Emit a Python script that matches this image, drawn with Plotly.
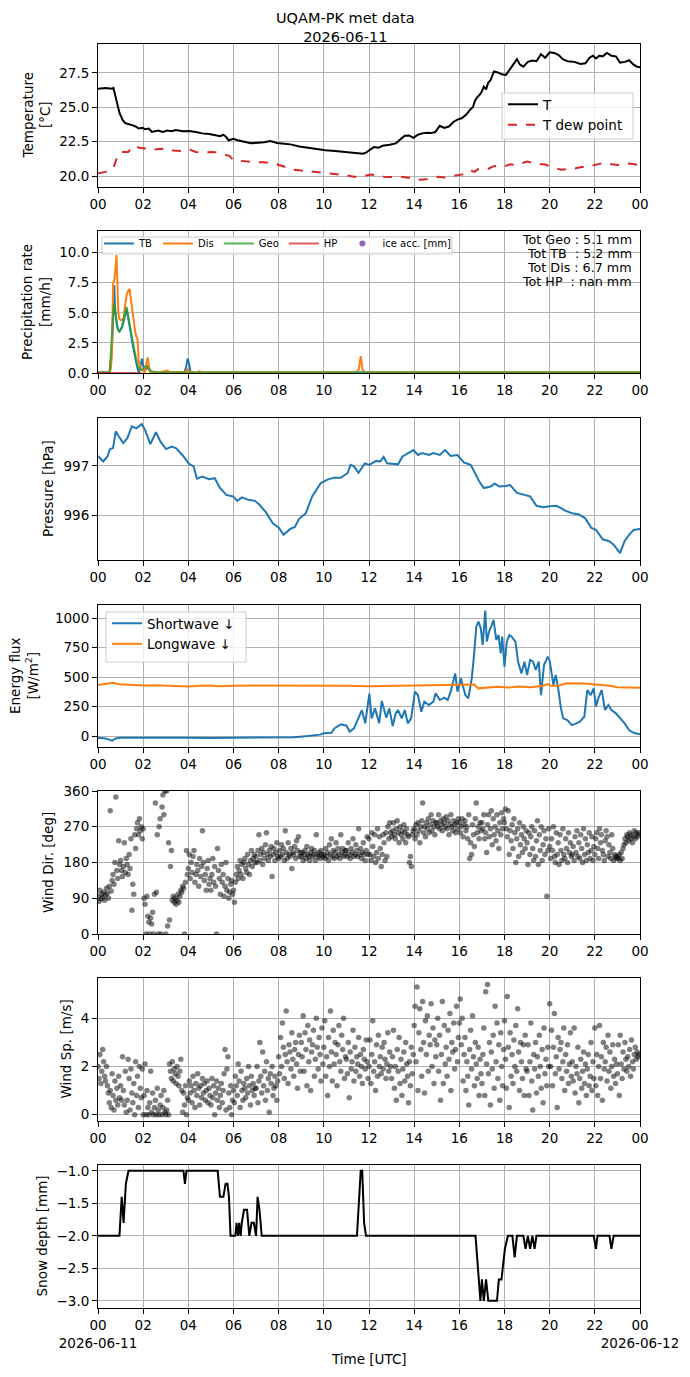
import pandas as pd
import plotly.graph_objects as go
from plotly.subplots import make_subplots

DAY = pd.Timestamp("2026-06-11")

# ---- data (times are minutes after 00 UTC) ----
t_min = [
    0, 20, 37, 41, 49, 57, 65, 72, 90, 100,
    108, 118, 125, 135, 143, 160, 172, 184, 195, 207,
    225, 242, 260, 277, 295, 312, 325, 333, 340, 347,
    360, 371, 390, 406, 425, 441, 458, 476, 495, 511,
    535, 558, 580, 604, 630, 651, 670, 686, 704, 712,
    721, 733, 745, 756, 775, 791, 805, 815, 826, 838,
    850, 861, 875, 884, 896, 908, 920, 932, 945, 955,
    966, 978, 988, 996, 1002, 1008, 1014, 1019, 1025, 1031,
    1037, 1043, 1052, 1060, 1072, 1084, 1098, 1113, 1121, 1130,
    1142, 1154, 1165, 1177, 1188, 1200, 1212, 1224, 1235, 1247,
    1265, 1282, 1295, 1306, 1315, 1323, 1332, 1341, 1352, 1364,
    1376, 1387, 1400, 1411, 1423, 1432, 1440]
t_val = [
    26.35, 26.4, 26.35, 26.4, 25.5, 24.6, 24.1, 23.85, 23.7, 23.6,
    23.45, 23.5, 23.4, 23.45, 23.2, 23.3, 23.2, 23.3, 23.25, 23.35,
    23.25, 23.27, 23.2, 23.1, 23.05, 22.95, 22.9, 23.0, 22.85, 22.6,
    22.7, 22.6, 22.45, 22.38, 22.42, 22.45, 22.55, 22.4, 22.35, 22.3,
    22.15, 22.05, 21.95, 21.88, 21.82, 21.77, 21.72, 21.65, 21.62, 21.7,
    21.9, 22.1, 22.05, 22.2, 22.28, 22.37, 22.7, 22.93, 22.95, 22.78,
    23.0, 23.1, 23.15, 23.12, 23.2, 23.65, 23.5, 23.6, 23.95, 24.1,
    24.2, 24.45, 24.8, 25.0, 25.5, 25.75, 25.9, 26.1, 26.5, 26.3,
    26.8, 26.97, 27.6, 27.55, 27.4, 27.35, 27.9, 28.5, 28.1, 27.95,
    28.3, 28.4, 28.35, 28.85, 28.6, 29.0, 28.95, 28.8, 28.5, 28.35,
    28.3, 28.15, 28.2, 28.6, 28.75, 28.55, 28.75, 28.7, 28.95, 28.75,
    28.7, 28.25, 28.3, 28.42, 28.1, 27.95, 27.9]

td_min = [
    0, 20, 40, 50, 60, 80, 95, 110, 125, 140,
    155, 170, 185, 200, 215, 230, 245, 260, 275, 290,
    305, 320, 335, 350, 360, 375, 390, 405, 420, 440,
    460, 475, 490, 505, 520, 540, 560, 580, 600, 620,
    640, 660, 680, 700, 715, 725, 740, 760, 780, 800,
    820, 840, 850, 860, 875, 890, 905, 920, 935, 950,
    965, 980, 990, 1000, 1010, 1020, 1035, 1050, 1065, 1080,
    1095, 1110, 1125, 1140, 1155, 1170, 1185, 1200, 1215, 1230,
    1245, 1260, 1275, 1290, 1305, 1320, 1335, 1350, 1365, 1380,
    1395, 1410, 1425, 1440]
td_val = [
    20.2, 20.3, 20.5, 21.3, 21.75, 21.75, 22.2, 22.05, 22.0, 21.85,
    21.95, 21.95, 22.0, 21.85, 21.85, 21.8, 21.9, 21.75, 21.7, 21.75,
    21.75, 21.7, 21.55, 21.45, 21.15, 21.1, 21.1, 21.05, 21.0, 21.0,
    20.95, 20.85, 20.7, 20.55, 20.45, 20.4, 20.35, 20.3, 20.25, 20.2,
    20.15, 20.05, 19.95, 19.95, 20.05, 20.1, 20.05, 19.95, 19.92, 19.95,
    19.9, 19.85, 19.75, 19.72, 19.78, 19.85, 19.95, 19.9, 19.95, 20.05,
    20.1, 20.2, 20.4, 20.3, 20.5, 20.45, 20.5, 20.7, 20.75, 20.7,
    20.85, 20.8, 20.9, 21.05, 20.95, 20.85, 20.85, 20.7, 20.55, 20.45,
    20.5, 20.5, 20.6, 20.65, 20.75, 20.8, 20.9, 20.95, 20.85, 20.8,
    20.85, 20.9, 20.85, 20.8]

pr_min = [
    0, 31, 34, 37, 40, 43, 46, 49, 51, 54,
    57, 60, 64, 68, 72, 76, 80, 84, 87, 90,
    93, 96, 99, 102, 105, 108, 111, 114, 117, 120,
    124, 128, 132, 135, 138, 142, 150, 160, 185, 189,
    193, 230, 234, 238, 242, 246, 265, 270, 274, 685,
    693, 698, 703, 708, 1440]
pr_tb = [
    0.05, 0.05, 1.0, 2.0, 4.5, 7.3, 5.0, 4.0, 3.8, 3.6,
    3.5, 3.6, 3.8, 4.3, 4.9, 5.3, 4.6, 4.0, 3.4, 2.8,
    2.2, 1.6, 1.2, 0.8, 0.4, 0.05, 0.3, 0.9, 1.2, 0.6,
    0.2, 0.3, 0.5, 0.4, 0.1, 0.05, 0.05, 0.05, 0.05, 0.05,
    0.05, 0.05, 0.5, 1.2, 0.8, 0.05, 0.05, 0.05, 0.05, 0.05,
    0.05, 0.05, 0.05, 0.05, 0.05]
pr_dis = [
    0.05, 0.05, 0.3, 1.5, 7.4, 7.6, 8.5, 9.8, 8.0, 5.0,
    4.5, 4.4, 4.4, 4.6, 5.6, 6.5, 6.8, 7.0, 6.2, 5.5,
    4.5, 4.0, 3.4, 3.0, 2.8, 1.0, 0.5, 0.3, 0.2, 0.2,
    0.1, 0.6, 1.3, 0.6, 0.1, 0.05, 0.05, 0.05, 0.2, 0.05,
    0.05, 0.05, 0.1, 0.3, 0.1, 0.05, 0.05, 0.15, 0.05, 0.05,
    0.3, 1.4, 0.3, 0.05, 0.05]
pr_geo = [
    0.05, 0.05, 1.5, 3.5, 5.0, 5.8, 5.0, 4.5, 4.0, 3.5,
    3.4, 3.6, 3.9, 4.5, 5.1, 5.5, 4.8, 4.2, 3.6, 3.0,
    2.5, 2.0, 1.4, 1.0, 0.6, 0.5, 0.4, 0.3, 0.3, 0.35,
    0.5, 0.6, 0.5, 0.35, 0.25, 0.15, 0.1, 0.05, 0.05, 0.05,
    0.05, 0.05, 0.05, 0.1, 0.05, 0.05, 0.05, 0.05, 0.05, 0.05,
    0.05, 0.1, 0.05, 0.05, 0.05]
hp_min = [0, 115]
hp_val = [0.0, 0.0]
precip_totals = ["Tot Geo : 5.1 mm", "Tot TB\u00a0 : 5.2 mm",
                 "Tot Dis : 6.7 mm", "Tot HP\u00a0 : nan mm"]

p_min = [
    0, 14, 25, 32, 40, 47, 55, 67, 78, 90,
    102, 116, 125, 139, 154, 166, 181, 195, 207, 224,
    242, 254, 263, 277, 295, 310, 324, 341, 359, 370,
    382, 400, 417, 429, 446, 464, 481, 493, 511, 523,
    534, 552, 569, 592, 610, 627, 645, 663, 671, 680,
    692, 709, 721, 739, 750, 759, 768, 785, 797, 809,
    826, 838, 850, 861, 879, 891, 908, 922, 937, 955,
    972, 990, 1002, 1013, 1025, 1043, 1054, 1066, 1084, 1095,
    1113, 1130, 1148, 1165, 1183, 1200, 1218, 1230, 1241, 1259,
    1276, 1294, 1311, 1323, 1341, 1358, 1370, 1382, 1387, 1399,
    1411, 1423, 1440]
p_val = [
    997.2, 997.09, 997.19, 997.34, 997.36, 997.70, 997.6, 997.46, 997.56, 997.8,
    997.76, 997.85, 997.73, 997.44, 997.68, 997.49, 997.34, 997.39, 997.36, 997.22,
    997.04, 996.99, 996.74, 996.78, 996.73, 996.75, 996.55, 996.41, 996.38, 996.29,
    996.36, 996.31, 996.29, 996.21, 996.06, 995.84, 995.74, 995.60, 995.72, 995.76,
    995.92, 996.04, 996.38, 996.65, 996.72, 996.76, 996.76, 996.85, 997.02, 996.99,
    996.86, 997.05, 997.02, 997.1, 997.09, 997.18, 997.05, 997.03, 997.03, 997.19,
    997.26, 997.32, 997.22, 997.26, 997.22, 997.26, 997.22, 997.32, 997.2, 997.22,
    997.07, 997.02, 996.85, 996.68, 996.55, 996.58, 996.64, 996.58, 996.59, 996.61,
    996.45, 996.41, 996.38, 996.19, 996.16, 996.18, 996.19, 996.14, 996.09, 996.04,
    996.02, 995.94, 995.74, 995.7, 995.51, 995.47, 995.4, 995.28, 995.23, 995.47,
    995.6, 995.70, 995.72]

sw_min = [
    0, 20, 37, 47, 60, 120, 180, 240, 300, 360,
    420, 480, 520, 545, 570, 590, 600, 620, 628, 645,
    660, 669, 680, 692, 701, 710, 721, 727, 736, 747,
    754, 766, 774, 783, 791, 797, 807, 815, 823, 832,
    842, 850, 859, 867, 879, 891, 897, 908, 920, 929,
    937, 949, 955, 964, 976, 984, 993, 999, 1005, 1011,
    1017, 1022, 1029, 1033, 1039, 1046, 1051, 1058, 1064, 1070,
    1074, 1080, 1086, 1093, 1099, 1109, 1116, 1125, 1133, 1140,
    1148, 1156, 1163, 1171, 1177, 1185, 1195, 1200, 1210, 1216,
    1222, 1230, 1236, 1247, 1259, 1271, 1280, 1292, 1300, 1309,
    1317, 1323, 1329, 1338, 1347, 1356, 1364, 1376, 1387, 1399,
    1411, 1423, 1440]
sw_val = [
    -14, -20, -40, -20, -15, -13, -15, -14, -16, -16,
    -15, -14, -10, -3, 5, 12, 23, 28, 65, 99,
    88, 37, 65, 150, 221, 108, 360, 150, 235, 108,
    297, 156, 235, 85, 193, 221, 150, 221, 108, 150,
    377, 348, 207, 292, 263, 292, 363, 306, 326, 306,
    377, 532, 377, 490, 348, 320, 490, 688, 929, 972,
    915, 773, 1065, 802, 887, 943, 986, 816, 858, 703,
    844, 589, 802, 858, 844, 802, 632, 532, 632, 518,
    646, 632, 561, 632, 348, 603, 674, 640, 433, 518,
    419, 235, 150, 136, 93, 108, 122, 164, 391, 348,
    405, 249, 320, 391, 221, 263, 221, 193, 150, 108,
    51, 28, 14]
lw_min = [
    0, 20, 40, 55, 90, 120, 150, 180, 200, 240,
    270, 300, 320, 360, 420, 480, 540, 600, 660, 720,
    780, 840, 900, 960, 990, 1000, 1010, 1030, 1060, 1090,
    1120, 1150, 1180, 1195, 1205, 1225, 1245, 1290, 1320, 1340,
    1360, 1380, 1440]
lw_val = [
    433, 440, 453, 440, 433, 430, 432, 428, 425, 420,
    428, 430, 422, 428, 430, 430, 428, 425, 427, 423,
    425, 428, 430, 432, 435, 438, 405, 410, 418, 412,
    420, 415, 425, 442, 425, 430, 448, 447, 440, 430,
    428, 415, 410]

# wind samples every 2.5 minutes, one row per hour
wind_dir = [
    95, 82, 110, 88, 100, 92, 105, 85, 98, 115, 102, 90, 120, 310, 108, 135, 150, 125, 180, 345, 160, 140, 235, 175,
    185, 160, 145, 170, 230, 155, 190, 175, 150, 200, 165, 240, 60, 125, 100, 250, 215, 265, 280, 250, 290, 260, 270, 240,
    265, 90, 75, 0, 95, 45, 30, 0, 40, 25, 55, 0, 100, 330, 105, 250, 0, 270, 290, 0, 320, 350, 300, 360,
    0, 360, 20, 230, 35, 170, 210, 85, 95, 80, 90, 75, 85, 100, 80, 95, 110, 105, 120, 115, 0, 130, 210, 150,
    165, 200, 140, 180, 155, 195, 210, 130, 150, 175, 160, 120, 190, 145, 170, 260, 180, 135, 150, 110, 165, 185, 125, 140,
    110, 150, 190, 130, 170, 120, 0, 215, 160, 140, 100, 175, 130, 150, 95, 120, 180, 110, 140, 90, 105, 125, 135, 100,
    110, 80, 130, 150, 170, 140, 160, 185, 150, 175, 140, 180, 190, 165, 155, 200, 175, 150, 185, 210, 170, 190, 200, 180,
    195, 180, 210, 250, 185, 200, 215, 175, 205, 190, 225, 255, 200, 185, 210, 195, 220, 145, 200, 215, 185, 205, 230, 195,
    190, 210, 195, 225, 200, 215, 185, 260, 205, 190, 230, 200, 195, 215, 165, 205, 200, 220, 190, 235, 210, 245, 195, 205,
    195, 205, 185, 200, 210, 190, 220, 200, 195, 185, 205, 215, 195, 200, 210, 185, 250, 200, 195, 205, 190, 210, 200, 195,
    200, 190, 215, 195, 205, 185, 225, 200, 240, 195, 210, 190, 205, 230, 195, 215, 200, 190, 250, 205, 215, 195, 200, 210,
    210, 195, 230, 200, 190, 215, 205, 240, 195, 200, 225, 210, 195, 265, 200, 215, 190, 205, 230, 200, 185, 210, 245, 200,
    240, 200, 185, 255, 220, 195, 250, 180, 205, 265, 190, 245, 215, 170, 200, 250, 230, 185, 255, 195, 270, 240, 280, 255,
    245, 260, 280, 250, 240, 265, 285, 255, 230, 270, 250, 260, 240, 275, 255, 230, 265, 250, 245, 180, 195, 170, 250, 260,
    265, 240, 275, 250, 280, 260, 230, 270, 285, 330, 255, 270, 245, 280, 265, 290, 255, 275, 300, 260, 285, 270, 250, 280,
    280, 270, 300, 265, 285, 275, 260, 290, 280, 270, 295, 265, 285, 250, 275, 300, 270, 260, 285, 275, 255, 280, 265, 290,
    280, 255, 270, 290, 245, 275, 285, 260, 270, 240, 300, 190, 230, 200, 275, 250, 220, 290, 330, 255, 270, 240, 280, 260,
    280, 265, 300, 240, 255, 205, 275, 300, 245, 265, 310, 225, 290, 250, 270, 235, 300, 260, 215, 280, 250, 305, 265, 290,
    280, 315, 265, 245, 310, 200, 260, 235, 275, 215, 290, 255, 180, 240, 265, 195, 280, 225, 250, 205, 270, 240, 215, 260,
    230, 175, 255, 200, 245, 270, 215, 185, 260, 195, 235, 285, 175, 250, 210, 270, 185, 225, 260, 200, 240, 95, 210, 265,
    220, 190, 240, 210, 270, 195, 180, 255, 200, 230, 175, 250, 210, 185, 265, 200, 190, 240, 215, 180, 255, 205, 230, 195,
    200, 220, 185, 245, 205, 260, 195, 230, 190, 250, 215, 180, 265, 200, 240, 185, 225, 205, 255, 190, 210, 245, 185, 220,
    200, 240, 255, 215, 190, 265, 230, 250, 210, 200, 185, 235, 260, 245, 195, 225, 205, 190, 250, 215, 185, 200, 195, 190,
    195, 190, 200, 185, 205, 190, 215, 225, 240, 230, 250, 245, 235, 255, 240, 250, 230, 245, 260, 240, 255, 245, 250, 255]
wind_sp = [
    2.0, 1.5, 2.5, 1.3, 1.8, 2.7, 2.2, 1.6, 1.4, 2.0, 1.2, 0.9, 0.5, 1.0, 0.3, 1.7, 0.8, 0.2, 1.4, 0.6, 1.1, 0.4, 1.6, 0.7,
    1.2, 0.6, 2.4, 1.0, 0.4, 1.8, 0.1, 0.6, 2.3, 1.5, 0.2, 1.9, 0.9, 0.5, 1.3, 0.0, 2.2, 0.8, 1.6, 0.3, 2.0, 1.1, 0.7, 1.9,
    0.0, 0.8, 2.1, 0.0, 1.0, 0.3, 0.0, 0.5, 1.8, 0.1, 0.9, 0.0, 0.3, 0.6, 0.0, 1.1, 0.2, 0.0, 0.4, 0.8, 0.0, 0.3, 1.0, 0.1,
    0.0, 0.2, 0.6, 0.0, 2.1, 1.8, 1.5, 2.2, 1.4, 1.9, 1.7, 1.3, 2.0, 1.6, 1.2, 1.8, 2.3, 1.0, 0.1, 0.9, 0.4, 1.2, 0.0, 0.7,
    0.6, 1.4, 0.9, 1.2, 0.5, 1.6, 1.0, 0.3, 1.3, 0.8, 1.7, 1.1, 0.4, 1.2, 0.7, 1.5, 0.9, 1.3, 0.6, 1.0, 1.4, 0.5, 1.1, 0.8,
    0.4, 1.5, 0.7, 1.2, 0.0, 0.9, 1.4, 0.6, 1.1, 0.3, 0.8, 1.3, 0.5, 1.0, 1.7, 2.7, 0.2, 1.9, 2.4, 0.9, 0.3, 1.2, 0.0, 0.6,
    1.0, 0.5, 1.6, 1.2, 0.8, 2.1, 1.4, 0.3, 1.8, 1.0, 0.6, 1.3, 1.1, 0.7, 1.5, 0.9, 2.0, 1.2, 0.4, 1.6, 1.0, 1.3, 0.8, 1.1,
    1.1, 2.0, 0.5, 1.4, 3.0, 1.6, 0.9, 2.6, 1.2, 1.8, 0.6, 2.2, 1.0, 1.5, 0.1, 1.7, 1.3, 2.0, 0.8, 1.1, 1.6, 1.2, 0.6, 1.4,
    2.4, 1.7, 3.2, 2.0, 3.8, 2.8, 1.5, 2.5, 4.3, 2.2, 1.3, 2.9, 2.6, 1.9, 3.4, 2.3, 1.6, 2.7, 3.0, 2.1, 1.1, 2.5, 3.3, 1.8,
    3.0, 2.4, 4.1, 1.8, 3.4, 2.7, 1.2, 3.7, 2.2, 3.1, 1.0, 2.6, 2.9, 3.5, 1.6, 2.3, 4.0, 2.8, 1.9, 3.2, 2.5, 1.4, 3.6, 2.1,
    2.8, 3.9, 1.6, 2.4, 0.8, 3.2, 2.0, 4.3, 2.6, 1.4, 3.5, 2.1, 3.0, 2.5, 1.2, 2.9, 3.7, 2.2, 1.8, 3.3, 2.7, 4.0, 1.5, 2.4,
    2.3, 1.7, 3.0, 0.7, 2.6, 1.9, 2.2, 3.5, 1.4, 2.8, 1.8, 2.4, 2.1, 3.2, 1.6, 2.5, 2.0, 1.3, 2.7, 2.3, 1.9, 3.1, 2.2, 1.5,
    2.0, 3.1, 1.3, 2.5, 3.9, 1.8, 2.2, 1.0, 2.9, 1.6, 3.3, 2.0, 2.4, 1.7, 2.8, 1.9, 3.0, 2.3, 1.5, 2.1, 3.4, 1.8, 2.6, 2.0,
    1.5, 2.4, 3.5, 1.1, 2.0, 0.6, 2.7, 1.8, 3.2, 1.3, 2.3, 0.8, 1.9, 2.6, 1.4, 3.0, 2.1, 1.6, 0.5, 2.2, 1.2, 2.8, 1.7, 2.5,
    3.7, 4.5, 2.2, 5.3, 1.0, 3.4, 4.4, 2.7, 1.6, 4.7, 3.0, 0.9, 3.9, 2.5, 4.1, 1.8, 3.3, 2.9, 4.6, 2.0, 3.6, 1.3, 3.1, 2.4,
    2.9, 4.0, 1.8, 3.3, 0.6, 2.5, 4.7, 1.3, 3.7, 2.1, 2.8, 1.6, 3.5, 2.3, 4.2, 1.0, 3.0, 2.6, 3.8, 1.9, 2.7, 4.5, 2.2, 3.2,
    3.8, 4.8, 2.9, 4.0, 1.4, 2.5, 3.2, 1.0, 2.2, 1.6, 0.4, 2.7, 3.5, 1.9, 4.1, 2.4, 1.2, 3.0, 2.1, 1.5, 2.8, 0.8, 2.3, 1.7,
    1.3, 2.5, 3.6, 0.8, 5.1, 2.1, 5.4, 1.7, 3.0, 0.4, 2.6, 1.9, 3.3, 1.1, 4.5, 2.2, 3.8, 1.5, 2.9, 0.6, 3.4, 2.0, 1.2, 2.7,
    3.9, 2.3, 1.1, 4.9, 2.8, 0.3, 3.4, 1.6, 2.5, 1.3, 3.1, 2.0, 3.7, 1.8, 4.4, 2.6, 1.0, 3.0, 2.2, 1.5, 2.9, 0.8, 3.3, 1.9,
    1.8, 2.9, 0.8, 2.2, 3.8, 1.4, 0.2, 2.5, 1.9, 3.0, 0.9, 2.4, 1.6, 3.3, 2.0, 1.1, 2.7, 0.5, 3.6, 1.7, 2.3, 1.2, 2.8, 2.0,
    4.6, 2.0, 3.5, 1.2, 2.8, 4.2, 1.7, 2.4, 0.3, 3.2, 1.9, 2.7, 3.0, 1.5, 2.2, 3.6, 1.0, 2.5, 1.8, 2.9, 1.3, 2.1, 3.4, 1.6,
    2.2, 1.4, 3.6, 0.9, 2.0, 1.7, 2.8, 0.5, 1.5, 2.3, 1.1, 1.8, 2.6, 1.3, 2.1, 0.8, 1.9, 2.5, 1.2, 1.6, 3.0, 1.0, 2.2, 1.5,
    3.6, 1.2, 2.5, 0.8, 2.0, 3.7, 1.5, 2.4, 0.6, 3.0, 1.9, 2.2, 2.8, 1.4, 3.3, 1.8, 2.6, 1.1, 2.0, 2.9, 1.6, 2.3, 1.3, 2.1,
    1.7, 2.9, 0.8, 3.3, 2.1, 1.5, 2.6, 1.9, 3.0, 2.3, 1.8, 2.4, 2.0, 2.7, 1.6, 3.1, 2.2, 1.9, 2.5, 2.8, 2.3, 2.6, 2.4, 2.5]

snow_min = [
    0, 57, 63, 68, 74, 81, 227, 231, 235, 318,
    324, 333, 339, 344, 348, 352, 365, 368, 372, 375,
    379, 382, 388, 396, 402, 408, 414, 420, 424, 429,
    435, 688, 698, 702, 707, 712, 1003, 1009, 1016, 1020,
    1025, 1031, 1037, 1060, 1065, 1072, 1078, 1081, 1089, 1101,
    1107, 1113, 1130, 1136, 1142, 1148, 1154, 1160, 1165, 1317,
    1323, 1327, 1359, 1364, 1370, 1440]
snow_val = [
    -2.0, -2.0, -1.4, -1.8, -1.2, -1.0, -1.0, -1.2, -1.0, -1.0,
    -1.4, -1.4, -1.2, -1.2, -1.4, -2.0, -2.0, -1.8, -2.0, -1.8,
    -2.0, -1.8, -1.6, -1.6, -2.0, -1.8, -1.8, -2.0, -1.4, -1.6,
    -2.0, -2.0, -1.0, -1.0, -1.8, -2.0, -2.0, -2.5, -3.0, -2.67,
    -3.0, -2.67, -3.0, -3.0, -2.67, -2.67, -2.33, -2.2, -2.0, -2.0,
    -2.33, -2.0, -2.0, -2.2, -2.0, -2.2, -2.0, -2.2, -2.0, -2.0,
    -2.2, -2.0, -2.0, -2.2, -2.0, -2.0]

hour_labels = ["00", "02", "04", "06", "08", "10", "12",
               "14", "16", "18", "20", "22", "00"]
date_labels = ["2026-06-11", "2026-06-12"]
y_titles = ["Temperature<br>[°C]", "Precipitation rate<br>[mm/h]", "Pressure [hPa]",
            "Energy flux<br>[W/m<sup>2</sup>]", "Wind Dir. [deg]", "Wind Sp. [m/s]",
            "Snow depth [mm]"]


def clock(minutes):
    return [DAY + pd.Timedelta(seconds=int(round(m * 60))) for m in minutes]


# ---- geometry: window pixels (the page adds an 8px body margin) ----
OFF = 8
W, H = 690 - OFF, 1377 - OFF
AX_L, AX_R, AX_T, AX_B = 98, 640, 44, 1308
panels = [(44, 187), (231, 373), (418, 560), (605, 747),
          (791, 934), (978, 1121), (1165, 1308)]
title_x = [36, 36, 48, 24, 47.5, 65, 41]


def px(p):
    return (p - AX_L) / (AX_R - AX_L)


def py(p):
    return (AX_B - p) / (AX_B - AX_T)


FONT = "DejaVu Sans"
FS = 13.5
fig = make_subplots(rows=7, cols=1)

fig.add_trace(go.Scatter(x=clock(t_min), y=t_val, mode="lines", name="T",
                         line=dict(color="black", width=2), legend="legend"), 1, 1)
fig.add_trace(go.Scatter(x=clock(td_min), y=td_val, mode="lines", name="T dew point",
                         line=dict(color="#d62728", width=2, dash="dash"),
                         legend="legend"), 1, 1)

fig.add_trace(go.Scatter(x=clock(pr_min), y=pr_tb, mode="lines", name="TB",
                         line=dict(color="#1f77b4", width=2), legend="legend2"), 2, 1)
fig.add_trace(go.Scatter(x=clock(pr_min), y=pr_dis, mode="lines", name="Dis",
                         line=dict(color="#ff7f0e", width=2), legend="legend2"), 2, 1)
fig.add_trace(go.Scatter(x=clock(pr_min), y=pr_geo, mode="lines", name="Geo",
                         line=dict(color="#2ca02c", width=2), opacity=0.8,
                         legend="legend2"), 2, 1)
fig.add_trace(go.Scatter(x=clock(hp_min), y=hp_val, mode="lines", name="HP",
                         line=dict(color="#d62728", width=2), opacity=0.75,
                         legend="legend2"), 2, 1)
fig.add_trace(go.Scatter(x=[DAY], y=[None], mode="markers", name="ice acc. [mm]",
                         marker=dict(color="#9467bd", size=6), legend="legend2"), 2, 1)

fig.add_trace(go.Scatter(x=clock(p_min), y=p_val, mode="lines", showlegend=False,
                         line=dict(color="#1f77b4", width=2)), 3, 1)

fig.add_trace(go.Scatter(x=clock(sw_min), y=sw_val, mode="lines", name="Shortwave ↓",
                         line=dict(color="#1f77b4", width=2), legend="legend3"), 4, 1)
fig.add_trace(go.Scatter(x=clock(lw_min), y=lw_val, mode="lines", name="Longwave ↓",
                         line=dict(color="#ff7f0e", width=2), legend="legend3"), 4, 1)

wind_t = clock([2.5 * i for i in range(len(wind_dir))])
dots = dict(color="black", size=5.5, opacity=0.5, line=dict(width=0))
fig.add_trace(go.Scatter(x=wind_t, y=wind_dir, mode="markers", showlegend=False,
                         marker=dots), 5, 1)
fig.add_trace(go.Scatter(x=wind_t, y=wind_sp, mode="markers", showlegend=False,
                         marker=dots), 6, 1)

fig.add_trace(go.Scatter(x=clock(snow_min), y=snow_val, mode="lines", showlegend=False,
                         line=dict(color="black", width=2)), 7, 1)

# ---- axes ----
tickvals = pd.date_range(DAY, periods=13, freq="2h")
bottom_labels = list(hour_labels)
bottom_labels[0] = hour_labels[0] + "<br>" + date_labels[0]
bottom_labels[-1] = hour_labels[-1] + "<br>" + date_labels[1]

axis_style = dict(showline=True, mirror=True, linecolor="black", linewidth=1,
                  ticks="outside", ticklen=5, tickwidth=1, tickcolor="black",
                  showgrid=True, gridcolor="#b0b0b0", gridwidth=1,
                  zeroline=False, automargin=False,
                  tickfont=dict(family=FONT, size=FS, color="black"))

y_setup = [
    dict(range=[19.2, 29.6], dtick=2.5, tick0=20, tickformat=".1f"),
    dict(range=[0, 11.8], dtick=2.5, tick0=0, tickformat=".1f"),
    dict(range=[995.09, 997.97], dtick=1, tick0=996, tickformat="d"),
    dict(range=[-93, 1113], dtick=250, tick0=0, tickformat="d"),
    dict(range=[0, 360], dtick=90, tick0=0, tickformat="d"),
    dict(range=[-0.26, 5.67], dtick=2, tick0=0, tickformat="d"),
    dict(range=[-3.11, -0.91], dtick=0.5, tick0=-3, tickformat=".1f"),
]

for i, ((top, bot), ys) in enumerate(zip(panels, y_setup), start=1):
    fig.update_yaxes(axis_style, row=i, col=1, domain=[py(bot), py(top)], **ys)
    fig.update_xaxes(axis_style, row=i, col=1, type="date", tickangle=0,
                     range=[DAY, DAY + pd.Timedelta(days=1)],
                     tickvals=tickvals,
                     ticktext=bottom_labels if i == 7 else hour_labels)
    fig.add_annotation(text=y_titles[i - 1], textangle=-90, showarrow=False,
                       xref="paper", yref="paper", x=px(title_x[i - 1]),
                       y=py((top + bot) / 2), xanchor="center", yanchor="middle",
                       font=dict(family=FONT, size=FS, color="black"))

clear = dict(bgcolor="rgba(0,0,0,0)", borderwidth=0)
fig.update_layout(
    width=W, height=H, template="none",
    margin=dict(l=AX_L - OFF, r=W - (AX_R - OFF), t=AX_T - OFF, b=H - (AX_B - OFF)),
    paper_bgcolor="white", plot_bgcolor="white",
    font=dict(family=FONT, size=FS, color="black"),
    legend=dict(x=px(503), xanchor="left", y=py(89), yanchor="top",
                font=dict(family=FONT, size=FS), **clear),
    legend2=dict(x=px(99), xanchor="left", y=py(229), yanchor="top",
                 orientation="h", font=dict(family=FONT, size=10),
                 itemwidth=30, **clear),
    legend3=dict(x=px(107), xanchor="left", y=py(608), yanchor="top",
                 font=dict(family=FONT, size=FS), **clear),
)

# legend frames (matplotlib style)
for x0, x1, y0, y1 in [(502, 633, 93, 139), (102, 452, 237, 254), (106, 246, 612, 662)]:
    fig.add_shape(type="rect", xref="paper", yref="paper", layer="above",
                  x0=px(x0), x1=px(x1), y0=py(y1), y1=py(y0),
                  fillcolor="rgba(255,255,255,0.8)", line=dict(color="#cccccc", width=1))

fig.add_annotation(text="UQAM-PK met data<br>" + date_labels[0], xref="paper", yref="paper",
                   x=px(345), y=py(27.5), xanchor="center", yanchor="middle", showarrow=False,
                   font=dict(family=FONT, size=14.5, color="black"))
fig.add_annotation(text="Time [UTC]", xref="paper", yref="paper", x=px(369), y=py(1359),
                   xanchor="center", yanchor="middle", showarrow=False,
                   font=dict(family=FONT, size=FS, color="black"))

for k, txt in enumerate(precip_totals):
    fig.add_annotation(text=txt, xref="paper", yref="paper", x=px(634), y=py(239.3 + 14 * k),
                       xanchor="right", yanchor="middle", showarrow=False,
                       font=dict(family=FONT, size=12.7, color="black"))

fig.write_html("out.html")
